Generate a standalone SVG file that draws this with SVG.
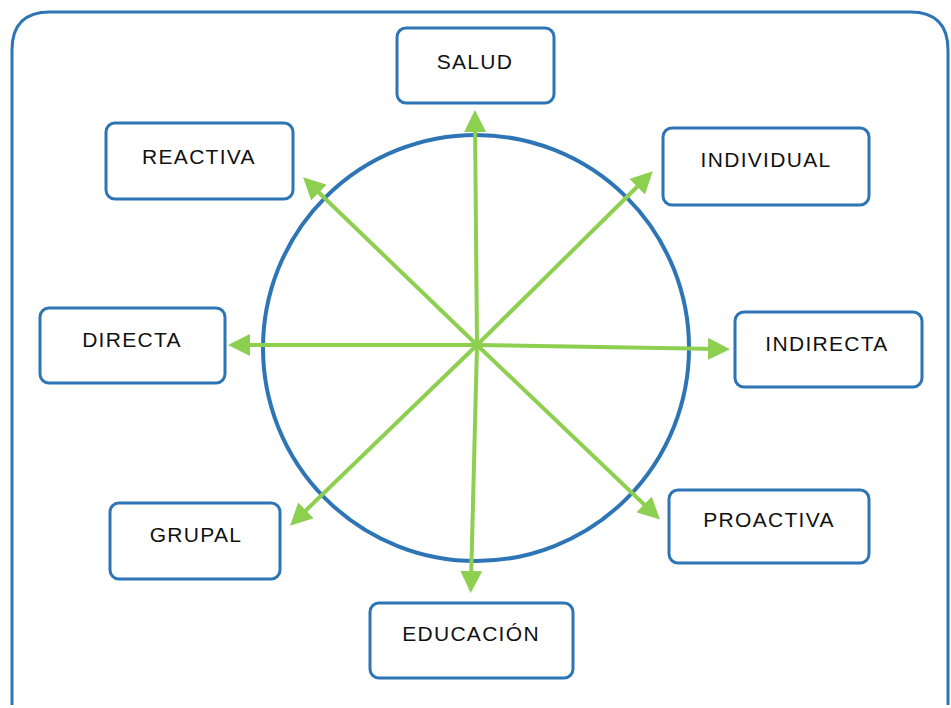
<svg xmlns="http://www.w3.org/2000/svg" width="951" height="708" viewBox="0 0 951 708">
<defs>
<style>
.box{fill:#fff;stroke:#2e75b6;stroke-width:3}
.t{font-family:"Liberation Sans",Arial,sans-serif;font-size:21px;fill:#111;text-anchor:middle;letter-spacing:1.3px}
.a{stroke:#8dcf4f;stroke-width:4;fill:none;marker-end:url(#ah)}
</style>
<marker id="ah" markerWidth="5.5" markerHeight="5.5" refX="2.75" refY="2.75" orient="auto" markerUnits="strokeWidth">
<path d="M0,0 L5.5,2.75 L0,5.5 Z" fill="#8dcf4f"/>
</marker>
</defs>
<rect width="951" height="708" fill="#fff"/>
<path d="M12,705 L12,50 Q12,12 50,12 L910,12 Q948,12 948,50 L948,705" fill="none" stroke="#2e75b6" stroke-width="3"/>
<circle cx="476" cy="348" r="213" fill="none" stroke="#2e75b6" stroke-width="4"/>
<g id="connectors">
<line class="a" x1="477" y1="345" x2="475" y2="121"/>
<line class="a" x1="477" y1="345" x2="471" y2="582"/>
<line class="a" x1="477" y1="345" x2="719" y2="349"/>
<line class="a" x1="477" y1="345" x2="239" y2="345"/>
<line class="a" x1="477" y1="345" x2="311" y2="185"/>
<line class="a" x1="477" y1="345" x2="645" y2="179"/>
<line class="a" x1="477" y1="345" x2="298" y2="518"/>
<line class="a" x1="477" y1="345" x2="652" y2="512"/>
</g>
<g id="salud"><rect class="box" x="397" y="28" width="157" height="75" rx="9"/><text class="t" x="475" y="69">SALUD</text></g>
<g id="reactiva"><rect class="box" x="106" y="123" width="187" height="76" rx="9"/><text class="t" x="199" y="164">REACTIVA</text></g>
<g id="individual"><rect class="box" x="663" y="128" width="206" height="77" rx="9"/><text class="t" x="766" y="167">INDIVIDUAL</text></g>
<g id="directa"><rect class="box" x="40" y="308" width="185" height="75" rx="9"/><text class="t" x="132" y="347">DIRECTA</text></g>
<g id="indirecta"><rect class="box" x="735" y="312" width="187" height="75" rx="9"/><text class="t" x="827" y="351">INDIRECTA</text></g>
<g id="grupal"><rect class="box" x="110" y="503" width="170" height="76" rx="9"/><text class="t" x="196" y="542">GRUPAL</text></g>
<g id="proactiva"><rect class="box" x="669" y="490" width="200" height="73" rx="9"/><text class="t" x="769" y="527">PROACTIVA</text></g>
<g id="educacion"><rect class="box" x="370" y="603" width="203" height="75" rx="9"/><text class="t" x="471" y="641">EDUCACIÓN</text></g>
</svg>
